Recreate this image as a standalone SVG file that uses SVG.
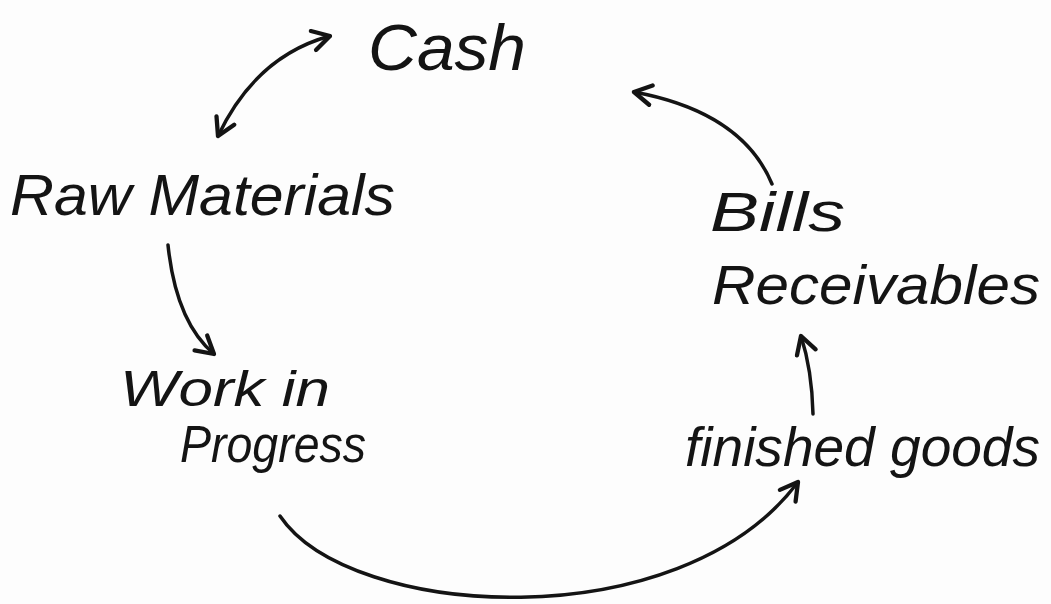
<svg xmlns="http://www.w3.org/2000/svg" width="1051" height="604" viewBox="0 0 1051 604">
  <style>
    .lbl { font-family: "Liberation Sans", "DejaVu Sans", sans-serif; fill: #141414; font-style: italic; }
    .flow { fill: none; stroke: #141414; stroke-width: 3.5; stroke-linecap: round; }
  </style>
  <defs>
    <marker id="head" viewBox="0 0 20 20" refX="16" refY="10" markerWidth="7" markerHeight="7" markerUnits="strokeWidth" orient="auto-start-reverse">
      <path d="M2 2 L16 10 L2 18" fill="none" stroke="#141414" stroke-width="3.5" stroke-linecap="round" stroke-linejoin="round"/>
    </marker>
  </defs>
  <rect width="1051" height="604" fill="#fdfdfd"/>

  <g id="cash">
    <text class="lbl" x="368" y="70" font-size="64" textLength="158" lengthAdjust="spacingAndGlyphs">Cash</text>
  </g>
  <g id="raw-materials">
    <text class="lbl" x="10" y="215" font-size="58" textLength="385" lengthAdjust="spacingAndGlyphs">Raw Materials</text>
  </g>
  <g id="work-in-progress">
    <text class="lbl" x="120" y="406" font-size="50" textLength="210" lengthAdjust="spacingAndGlyphs">Work in</text>
    <text class="lbl" x="180" y="462" font-size="52" textLength="186" lengthAdjust="spacingAndGlyphs">Progress</text>
  </g>
  <g id="bills-receivables">
    <text class="lbl" x="710" y="231" font-size="56" textLength="135" lengthAdjust="spacingAndGlyphs">Bills</text>
    <text class="lbl" x="712" y="304" font-size="56" textLength="328" lengthAdjust="spacingAndGlyphs">Receivables</text>
  </g>
  <g id="finished-goods">
    <text class="lbl" x="685" y="466" font-size="56" textLength="355" lengthAdjust="spacingAndGlyphs">finished goods</text>
  </g>

  <g id="connectors">
    <!-- cash <-> raw materials -->
    <path class="flow" d="M330 36 Q256 56 218 136" marker-start="url(#head)" marker-end="url(#head)"/>
    <!-- raw materials -> work in progress -->
    <path class="flow" d="M168 245 Q176 322 214 354" marker-end="url(#head)"/>
    <!-- work in progress -> finished goods -->
    <path class="flow" d="M280 516 C350 620 680 640 798 482" marker-end="url(#head)"/>
    <!-- finished goods <-> receivables -->
    <path class="flow" d="M813 414 Q812 370 801 336" marker-end="url(#head)"/>
    <!-- receivables -> cash -->
    <path class="flow" d="M772 184 Q742 112 634 92" marker-end="url(#head)"/>
  </g>
</svg>
